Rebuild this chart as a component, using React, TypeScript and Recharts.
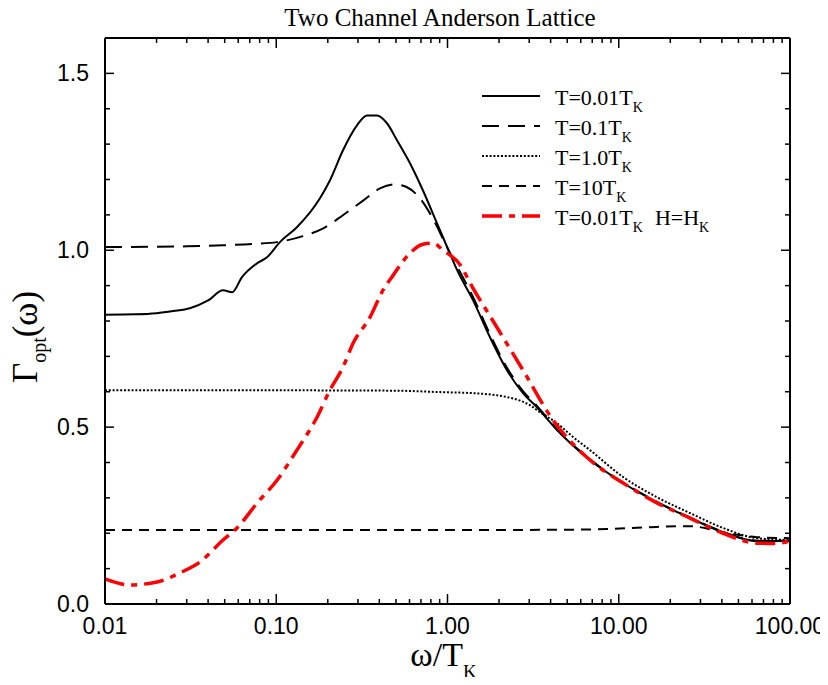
import React from "react";
import { LineChart, Line, XAxis, YAxis, Legend } from "recharts";

// omega/T_K positions and Gamma_opt values
const wT001 = [0.01, 0.015, 0.02, 0.025, 0.0313, 0.04, 0.0489, 0.0552, 0.0631, 0.0772, 0.0883, 0.105, 0.132, 0.18, 0.206, 0.245, 0.296, 0.339, 0.387, 0.443, 0.507, 0.604, 0.719, 0.869, 1.035, 1.135, 1.409, 1.771, 2.225, 2.76, 3.33, 4.36, 6.79, 10.6, 16.7, 26.1, 40.6, 64.1, 100];
const gT001 = [0.818, 0.819, 0.822, 0.828, 0.836, 0.858, 0.887, 0.881, 0.924, 0.963, 0.98, 1.023, 1.065, 1.147, 1.198, 1.282, 1.353, 1.381, 1.381, 1.359, 1.311, 1.246, 1.169, 1.076, 0.99, 0.945, 0.859, 0.754, 0.661, 0.596, 0.556, 0.492, 0.407, 0.342, 0.288, 0.243, 0.203, 0.178, 0.178];

const wT01 = [0.01, 0.03, 0.0489, 0.075, 0.101, 0.143, 0.188, 0.245, 0.323, 0.403, 0.49, 0.58, 0.69, 0.82, 0.995, 1.135, 1.409, 1.771, 2.225, 2.76, 3.33, 4.36, 6.79, 10.6, 16.7, 26.1, 40.6, 64.1, 100];
const gT01 = [1.009, 1.011, 1.014, 1.018, 1.023, 1.04, 1.062, 1.099, 1.141, 1.175, 1.186, 1.178, 1.147, 1.09, 1.008, 0.955, 0.868, 0.762, 0.668, 0.602, 0.56, 0.494, 0.409, 0.343, 0.289, 0.244, 0.204, 0.179, 0.179];

const wT1 = [0.01, 0.1, 0.5, 0.904, 1.409, 2.225, 3.03, 3.47, 4.36, 5.41, 6.79, 10.6, 16.7, 26.1, 40.6, 64.1, 100];
const gT1 = [0.604, 0.604, 0.603, 0.599, 0.596, 0.585, 0.562, 0.542, 0.511, 0.472, 0.435, 0.359, 0.302, 0.257, 0.215, 0.186, 0.181];

const wT10 = [0.01, 0.1, 1, 5, 8.5, 16.7, 26.1, 40.6, 64.1, 100];
const gT10 = [0.209, 0.209, 0.209, 0.21, 0.212, 0.218, 0.22, 0.203, 0.189, 0.186];

const wField = [0.01, 0.014, 0.0201, 0.0274, 0.0359, 0.0489, 0.059, 0.0772, 0.101, 0.132, 0.173, 0.206, 0.245, 0.281, 0.353, 0.42, 0.481, 0.604, 0.719, 0.823, 0.942, 1.18, 1.4, 1.845, 2.76, 4.13, 6.79, 10.6, 16.7, 26.1, 40.6, 64.1, 82.8, 100];
const gField = [0.071, 0.054, 0.062, 0.088, 0.119, 0.181, 0.215, 0.285, 0.35, 0.435, 0.528, 0.605, 0.669, 0.737, 0.811, 0.887, 0.929, 0.992, 1.017, 1.02, 1.0, 0.96, 0.895, 0.8, 0.661, 0.52, 0.407, 0.342, 0.286, 0.243, 0.2, 0.172, 0.171, 0.178];

const xDecades = [0.01, 0.1, 1, 10, 100];
const xMinorSteps = [2, 3, 4, 5, 6, 7, 8, 9];
const yTicks = [0, 0.1, 0.2, 0.3, 0.4, 0.5, 0.6, 0.7, 0.8, 0.9, 1.0, 1.1, 1.2, 1.3, 1.4, 1.5];

const xTicks = xDecades.flatMap((d, i) =>
  i === xDecades.length - 1 ? [d] : [d, ...xMinorSteps.map((m) => m * d)]
);

const toPoints = (w: number[], g: number[]) => w.map((v, i) => ({ w: v, g: g[i] }));

const SERIF = "'Liberation Serif', 'Times New Roman', serif";
const SANS = "'Liberation Sans', Arial, sans-serif";

const series = [
  { key: "t001", data: toPoints(wT001, gT001), label: "T=0.01T", extra: "", color: "#000", width: 2, dash: undefined },
  { key: "t01", data: toPoints(wT01, gT01), label: "T=0.1T", extra: "", color: "#000", width: 2, dash: "17 9" },
  { key: "t1", data: toPoints(wT1, gT1), label: "T=1.0T", extra: "", color: "#000", width: 2, dash: "2 1.8" },
  { key: "t10", data: toPoints(wT10, gT10), label: "T=10T", extra: "", color: "#000", width: 2, dash: "10 7" },
  { key: "field", data: toPoints(wField, gField), label: "T=0.01T", extra: "H=H", color: "#ff0000", width: 3.5, dash: "20 7 6 7" },
];

const isDecade = (v: number) => Math.abs(Math.log10(v) - Math.round(Math.log10(v))) < 1e-6;
const isHalf = (v: number) => Math.abs(v * 2 - Math.round(v * 2)) < 1e-6;

const BottomTick = ({ x, y, payload }: any) => {
  const major = isDecade(payload.value);
  return (
    <g>
      <line x1={x} x2={x} y1={y} y2={y - (major ? 10 : 5)} stroke="#000" strokeWidth={1.5} />
      {major && (
        <text x={x} y={y + 30} textAnchor="middle" fontSize={23} fontFamily={SANS} fill="#000">
          {payload.value.toFixed(2)}
        </text>
      )}
    </g>
  );
};

const TopTick = ({ x, y, payload }: any) => {
  const major = isDecade(payload.value);
  return <line x1={x} x2={x} y1={y} y2={y + (major ? 10 : 5)} stroke="#000" strokeWidth={1.5} />;
};

const LeftTick = ({ x, y, payload }: any) => {
  const major = isHalf(payload.value);
  return (
    <g>
      <line x1={x} x2={x + (major ? 9 : 5)} y1={y} y2={y} stroke="#000" strokeWidth={1.5} />
      {major && (
        <text x={x - 16} y={y + 8} textAnchor="end" fontSize={23} fontFamily={SANS} fill="#000">
          {payload.value.toFixed(1)}
        </text>
      )}
    </g>
  );
};

const RightTick = ({ x, y, payload }: any) => {
  const major = isHalf(payload.value);
  return <line x1={x} x2={x - (major ? 9 : 5)} y1={y} y2={y} stroke="#000" strokeWidth={1.5} />;
};

const XTitle = ({ viewBox }: any) => (
  <text x={viewBox.x + viewBox.width / 2 - 4} y={viewBox.y + 62} textAnchor="middle" fontFamily={SERIF} fontSize={34} fill="#000">
    ω/T<tspan fontSize={19} dy={12}>K</tspan>
  </text>
);

const YTitle = () => (
  <text x={0} y={0} transform="translate(37,337) rotate(-90)" textAnchor="middle" fontFamily={SERIF} fontSize={35} fill="#000">
    Γ<tspan fontSize={20} dy={9}>opt</tspan>
    <tspan dy={-9}>(ω)</tspan>
  </text>
);

const LegendBox = () => (
  <svg width={330} height={160}>
    {series.map((s, i) => {
      const y = 18 + 30 * i;
      return (
        <g key={s.key}>
          <line x1={14} x2={72} y1={y} y2={y} stroke={s.color} strokeWidth={s.width} strokeDasharray={s.dash} />
          <text x={87} y={y + 9} fontFamily={SERIF} fontSize={22} fill="#000">
            {s.label}
            <tspan fontSize={14} dy={7}>K</tspan>
            {s.extra && (
              <>
                <tspan dy={-7} dx={12}>{s.extra}</tspan>
                <tspan fontSize={14} dy={7}>K</tspan>
              </>
            )}
          </text>
        </g>
      );
    })}
  </svg>
);

export default function App() {
  return (
    <div style={{ position: "relative", width: 828, height: 685, margin: -8 }}>
      <LineChart width={828} height={685} margin={{ top: 28, right: 28, bottom: 21, left: 45 }}>
        <XAxis
          xAxisId="bottom"
          dataKey="w"
          type="number"
          scale="log"
          domain={[0.01, 100]}
          allowDataOverflow
          ticks={xTicks}
          interval={0}
          tick={<BottomTick />}
          tickLine={false}
          tickSize={0}
          tickMargin={0}
          height={60}
          axisLine={{ stroke: "#000", strokeWidth: 2 }}
          label={{ content: <XTitle /> }}
        />
        <XAxis
          xAxisId="top"
          orientation="top"
          dataKey="w"
          type="number"
          scale="log"
          domain={[0.01, 100]}
          allowDataOverflow
          ticks={xTicks}
          interval={0}
          tick={<TopTick />}
          tickLine={false}
          tickSize={0}
          tickMargin={0}
          height={10}
          axisLine={{ stroke: "#000", strokeWidth: 2 }}
        />
        <YAxis
          yAxisId="left"
          type="number"
          domain={[0, 1.6]}
          allowDataOverflow
          ticks={yTicks}
          interval={0}
          tick={<LeftTick />}
          tickLine={false}
          tickSize={0}
          tickMargin={0}
          width={60}
          axisLine={{ stroke: "#000", strokeWidth: 2 }}
          label={{ content: <YTitle /> }}
        />
        <YAxis
          yAxisId="right"
          orientation="right"
          type="number"
          domain={[0, 1.6]}
          allowDataOverflow
          ticks={yTicks}
          interval={0}
          tick={<RightTick />}
          tickLine={false}
          tickSize={0}
          tickMargin={0}
          width={10}
          axisLine={{ stroke: "#000", strokeWidth: 2 }}
        />
        <Legend
          layout="horizontal"
          verticalAlign="middle"
          align="center"
          wrapperStyle={{ top: 78, left: 468, width: 330, height: 160 }}
          content={() => <LegendBox />}
        />
        {series.map((s) => (
          <Line
            key={s.key}
            xAxisId="bottom"
            yAxisId="left"
            data={s.data}
            dataKey="g"
            type="monotone"
            stroke={s.color}
            strokeWidth={s.width}
            strokeDasharray={s.dash}
            dot={false}
            activeDot={false}
            isAnimationActive={false}
          />
        ))}
      </LineChart>
      <div
        style={{
          position: "absolute",
          left: 0,
          top: 5,
          width: 880,
          textAlign: "center",
          fontFamily: SERIF,
          fontSize: 25,
          lineHeight: "25px",
          color: "#000",
        }}
      >
        Two Channel Anderson Lattice
      </div>
    </div>
  );
}
